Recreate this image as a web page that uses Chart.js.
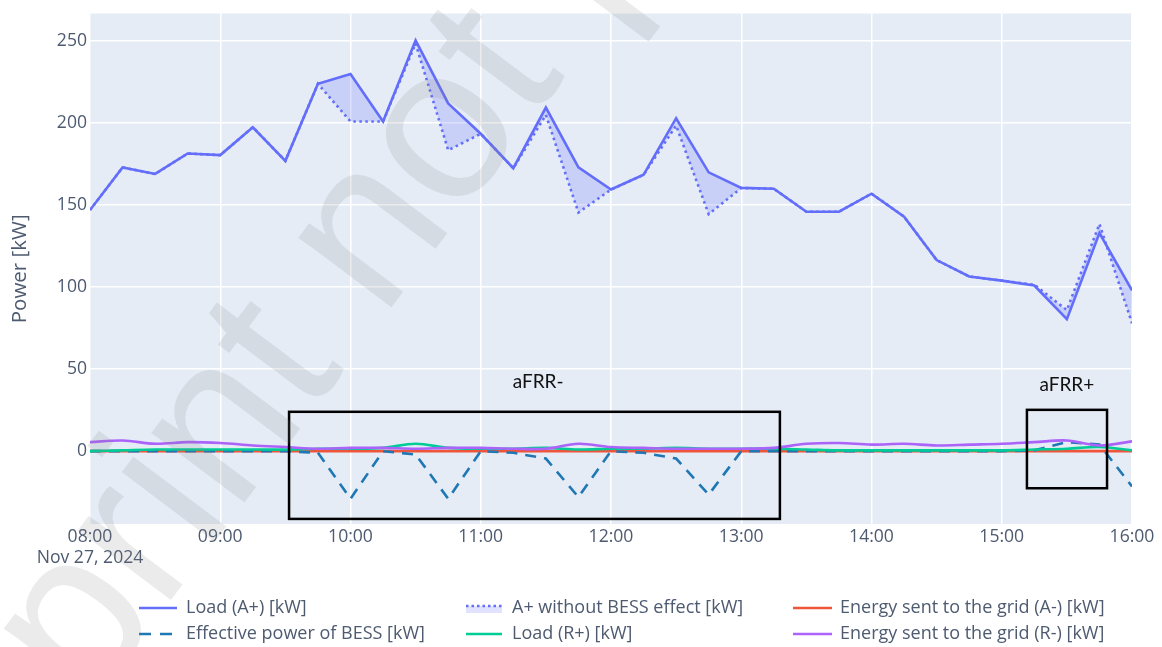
<!DOCTYPE html>
<html>
<head>
<meta charset="utf-8">
<script src="https://cdn.jsdelivr.net/npm/chart.js@4.4.1/dist/chart.umd.min.js"></script>
<style>
  html, body { margin: 0; padding: 0; background: #ffffff; }
  #wrap { width: 1162px; height: 647px; position: relative; }
</style>
</head>
<body>
<div id="wrap"><canvas id="c" width="1162" height="647"></canvas></div>
<script>
// 15-minute readings, 27 Nov 2024
const times = ["08:00","08:15","08:30","08:45","09:00","09:15","09:30","09:45",
               "10:00","10:15","10:30","10:45","11:00","11:15","11:30","11:45",
               "12:00","12:15","12:30","12:45","13:00","13:15","13:30","13:45",
               "14:00","14:15","14:30","14:45","15:00","15:15","15:30","15:45","16:00"];

const loadA = [147, 173, 169, 181.5, 180.5, 197.5, 177, 224,
               230, 201, 250.5, 212, 193.5, 172.5, 209.5, 173,
               159.5, 168.5, 203, 170, 160.5, 160, 146, 146,
               157, 143, 116.5, 106.5, 104, 101, 80.5, 133, 98];

const loadWithoutBess = [147, 173, 169, 181.5, 180.5, 197.5, 177, 224,
               201, 201, 248.5, 183.5, 193.5, 172.5, 205, 145.5,
               159.5, 168.5, 198.5, 144.5, 160.5, 160, 146, 146,
               157, 143, 116.5, 106.5, 104, 101.5, 86, 138.5, 78];

const gridA = [0, 0, 0, 0, 0, 0, 0, 0, 0, 0, 0, 0, 0, 0, 0, 0, 0,
               0, 0, 0, 0, 0, 0, 0, 0, 0, 0, 0, 0, 0, 0, 0, 0];

const bessPower = [0, 0, 0, 0, 0, 0, 0, -1,
               -29, 0, -2, -29, 0, -1, -4.5, -28,
               0, -1, -4.5, -26.5, 0, 0, 0, 0,
               0, 0, 0, 0, 0, 0.5, 5.5, 4, -21.5];

const loadR = [0, 0.5, 1, 1, 1, 1, 1, 1.5,
               1.5, 2, 4.5, 2, 1.5, 1.5, 2, 1,
               1.5, 1.5, 2, 1.5, 1.5, 1.5, 1, 0.5,
               0.5, 0.5, 0.5, 0.5, 0.5, 1, 1.5, 2.5, 0.5];

const gridR = [5.5, 6.5, 4.5, 5.5, 5, 3.5, 2.5, 1.5,
               2, 2, 1.5, 2, 2, 1.5, 1.5, 4.5,
               2.5, 2, 1.5, 1.5, 1.5, 2, 4.5, 5,
               4, 4.5, 3.5, 4, 4.5, 5.5, 6.5, 3.5, 6];

const xTicks = ["08:00","09:00","10:00","11:00","12:00","13:00","14:00","15:00","16:00"];
const dateLabel = "Nov 27, 2024";
const yTicks = [0, 50, 100, 150, 200, 250];

const seriesNames = ["Load (A+) [kW]", "A+ without BESS effect [kW]", "Energy sent to the grid (A-) [kW]",
                     "Effective power of BESS [kW]", "Load (R+) [kW]", "Energy sent to the grid (R-) [kW]"];

// Highlighted balancing windows (minutes after 08:00, kW)
const zones = [
  { label: "aFRR-", x0: 91.7, x1: 317.8, y0: -41.3, y1: 24.0, labelX: 206.4, labelY: 42.2 },
  { label: "aFRR+", x0: 431.6, x1: 468.5, y0: -22.6, y1: 25.2, labelX: 450, labelY: 40.4 }
];

const toMin = t => { const [h, m] = t.split(":").map(Number); return h * 60 + m - 480; };
const pts = arr => arr.map((v, i) => ({ x: toMin(times[i]), y: v }));

const C_LOAD = "#636efa", C_RED = "#ef553b", C_BESS = "#1f77b4", C_GREEN = "#00cc96", C_PURPLE = "#ab63fa";
const TEXT = "#4d5a70";
const FONT = "'Open Sans', 'Noto Sans', sans-serif";

const plotBg = {
  id: "plotBg",
  beforeDraw(chart) {
    const { ctx, chartArea: a } = chart;
    ctx.save();
    ctx.fillStyle = "#e5ecf6";
    ctx.fillRect(a.left, a.top, a.right - a.left, a.bottom - a.top);
    ctx.restore();
  }
};

const zoneBoxes = {
  id: "zoneBoxes",
  afterDatasetsDraw(chart) {
    const { ctx, scales: { x, y } } = chart;
    ctx.save();
    ctx.strokeStyle = "#000000";
    ctx.lineWidth = 2.5;
    ctx.fillStyle = "#111111";
    ctx.font = "19px Lato, 'Noto Sans', sans-serif";
    ctx.textAlign = "center";
    ctx.textBaseline = "middle";
    zones.forEach(z => {
      const l = x.getPixelForValue(z.x0), r = x.getPixelForValue(z.x1);
      const t = y.getPixelForValue(z.y1), b = y.getPixelForValue(z.y0);
      ctx.strokeRect(l, t, r - l, b - t);
      ctx.fillText(z.label, x.getPixelForValue(z.labelX), y.getPixelForValue(z.labelY));
    });
    ctx.restore();
  }
};

const legendBlock = {
  id: "legendBlock",
  afterDraw(chart) {
    const { ctx } = chart;
    const cols = [139, 466, 793];
    const textX = [186, 512, 840];
    const rows = [608, 634];
    const swW = [38, 36, 39];
    ctx.save();
    ctx.font = "18px " + FONT;
    ctx.textBaseline = "middle";
    ctx.textAlign = "left";
    ctx.lineCap = "butt";
    const items = [
      { c: 0, r: 0, color: C_LOAD, dash: [] },
      { c: 1, r: 0, color: C_LOAD, dash: [2.5, 3], fill: true },
      { c: 2, r: 0, color: C_RED, dash: [] },
      { c: 0, r: 1, color: C_BESS, dash: [12, 9] },
      { c: 1, r: 1, color: C_GREEN, dash: [] },
      { c: 2, r: 1, color: C_PURPLE, dash: [] }
    ];
    items.forEach((it, i) => {
      const x0 = cols[it.c], x1 = x0 + swW[it.c], yy = rows[it.r];
      if (it.fill) {
        ctx.fillStyle = "rgba(99,110,250,0.2)";
        ctx.fillRect(x0, yy - 2, x1 - x0, 7);
      }
      ctx.strokeStyle = it.color;
      ctx.lineWidth = 2.6;
      ctx.setLineDash(it.dash);
      ctx.beginPath();
      ctx.moveTo(x0, it.fill ? yy - 2 : yy);
      ctx.lineTo(x1, it.fill ? yy - 2 : yy);
      ctx.stroke();
      ctx.setLineDash([]);
      ctx.fillStyle = TEXT;
      ctx.fillText(seriesNames[i], textX[it.c], yy);
    });
    ctx.restore();
  }
};

const watermark = {
  id: "watermark",
  afterDraw(chart) {
    const { ctx } = chart;
    ctx.save();
    ctx.translate(88, 710);
    ctx.rotate(-53 * Math.PI / 180);
    ctx.font = "220px 'Liberation Sans', Arial, sans-serif";
    ctx.fillStyle = "rgba(128,128,128,0.16)";
    ctx.textBaseline = "alphabetic";
    ctx.textAlign = "left";
    const pre = "Pre";
    ctx.fillText("Preprint not peer reviewed", -ctx.measureText(pre).width, 0);
    ctx.restore();
  }
};

new Chart(document.getElementById("c"), {
  type: "line",
  data: {
    datasets: [
      { label: seriesNames[0], data: pts(loadA), borderColor: C_LOAD, borderWidth: 2.6,
        pointRadius: 0, fill: false, tension: 0, order: 5 },
      { label: seriesNames[1], data: pts(loadWithoutBess), borderColor: C_LOAD, borderWidth: 2.6,
        borderDash: [2.5, 3.5], pointRadius: 0, fill: 0, backgroundColor: "rgba(99,110,250,0.22)",
        tension: 0, order: 4 },
      { label: seriesNames[2], data: pts(gridA), borderColor: C_RED, borderWidth: 2.6,
        pointRadius: 0, fill: false, tension: 0, order: 3 },
      { label: seriesNames[3], data: pts(bessPower), borderColor: C_BESS, borderWidth: 2.6,
        borderDash: [11, 8], pointRadius: 0, fill: false, tension: 0, order: 2 },
      { label: seriesNames[4], data: pts(loadR), borderColor: C_GREEN, borderWidth: 2.6,
        pointRadius: 0, fill: false, tension: 0.35, order: 1 },
      { label: seriesNames[5], data: pts(gridR), borderColor: C_PURPLE, borderWidth: 2.6,
        pointRadius: 0, fill: false, tension: 0.35, order: 0 }
    ]
  },
  options: {
    responsive: false,
    animation: false,
    devicePixelRatio: 1,
    layout: { padding: { left: 0, right: 30, top: 10, bottom: 63 } },
    plugins: { legend: { display: false }, tooltip: { enabled: false } },
    scales: {
      x: {
        type: "linear",
        min: 0, max: 480,
        afterBuildTicks: s => { s.ticks = xTicks.map(t => ({ value: toMin(t) })); },
        afterFit: s => { s.height = 60; },
        ticks: {
          autoSkip: false, maxRotation: 0, padding: 2,
          color: TEXT, font: { family: FONT, size: 17.6, lineHeight: 1.2 },
          callback: v => {
            const i = xTicks.findIndex(t => toMin(t) === v);
            return i === 0 ? [xTicks[0], dateLabel] : xTicks[i];
          }
        },
        grid: { color: "#ffffff", lineWidth: 1.5, drawTicks: false },
        border: { display: false }
      },
      y: {
        min: -44.4, max: 266.8,
        afterBuildTicks: s => { s.ticks = yTicks.map(v => ({ value: v })); },
        afterFit: s => { s.width = 90; },
        ticks: { padding: 3, color: TEXT, font: { family: FONT, size: 17.6 } },
        grid: { color: "#ffffff", lineWidth: 1.5, drawTicks: false },
        border: { display: false },
        title: { display: true, text: "Power [kW]", color: TEXT,
                 font: { family: FONT, size: 20.5 }, padding: { top: 8, bottom: 0 } }
      }
    }
  },
  plugins: [plotBg, zoneBoxes, legendBlock, watermark]
});
</script>
</body>
</html>
